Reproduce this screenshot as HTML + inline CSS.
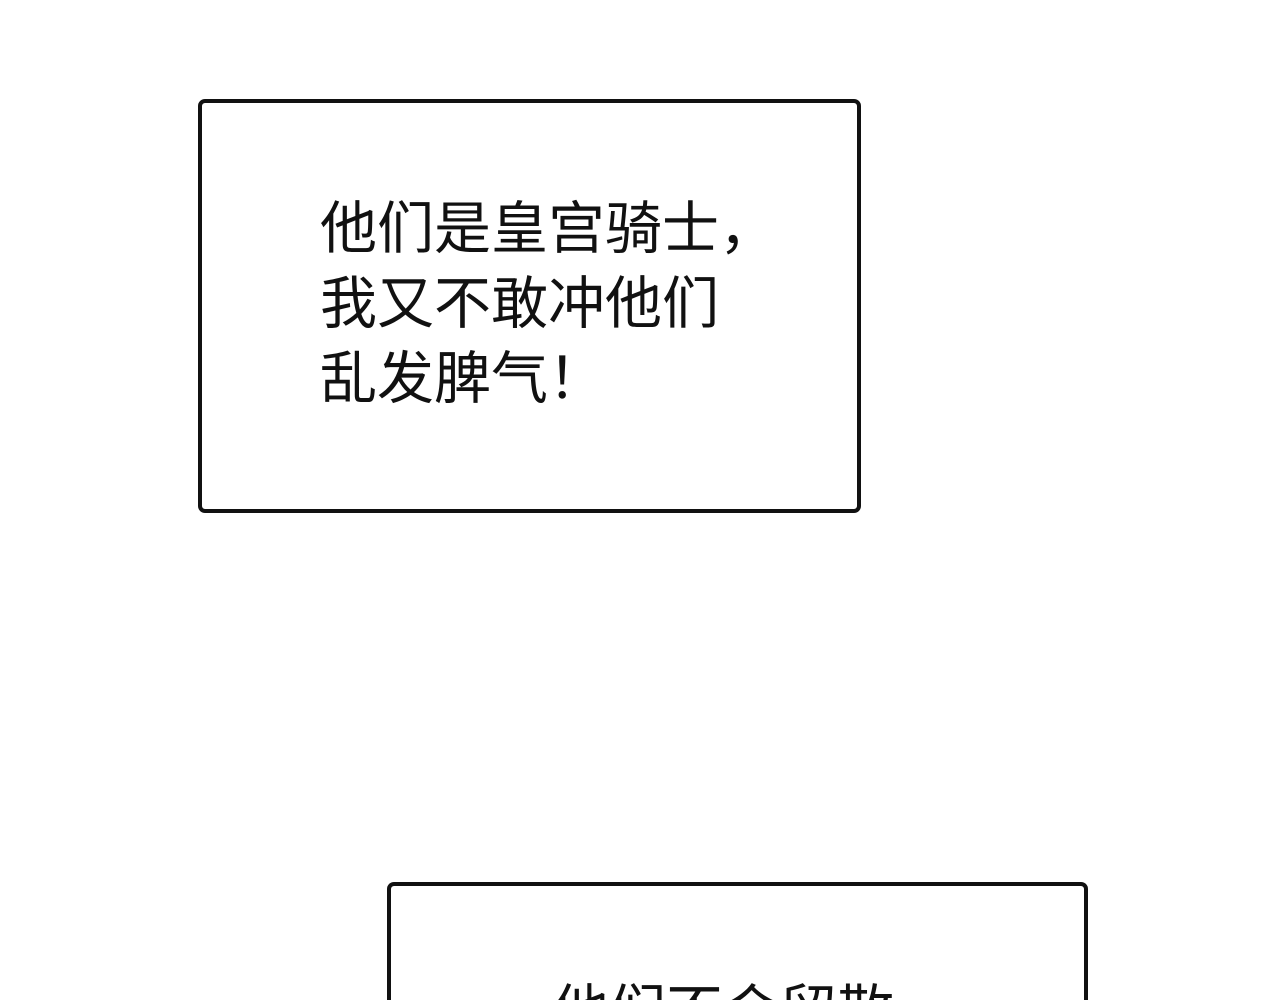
<!DOCTYPE html>
<html><head><meta charset="utf-8"><style>
html,body{margin:0;padding:0;background:#fff;width:1280px;height:1000px;overflow:hidden;position:relative}
.box{position:absolute;border:4px solid #111;border-radius:7px;box-sizing:border-box;background:#fff}
.t{position:absolute;font-family:"Liberation Sans","Noto Sans CJK SC",sans-serif;font-size:57px;line-height:75px;color:#111;white-space:nowrap;font-weight:400}
</style></head><body>
<div class="box" style="left:198px;top:99px;width:663px;height:414px"></div>
<div class="t" style="left:320px;top:192px">他们是皇宫骑士，<br>我又不敢冲他们<br>乱发脾气！</div>
<div class="box" style="left:387px;top:882px;width:701px;height:118px;border-bottom:none;border-radius:7px 7px 0 0"></div>
<div style="position:absolute;left:0;top:975px;width:1280px;height:25px;overflow:hidden">
<div class="t" style="left:552px;top:0">他们不会留散</div>
</div>
</body></html>
